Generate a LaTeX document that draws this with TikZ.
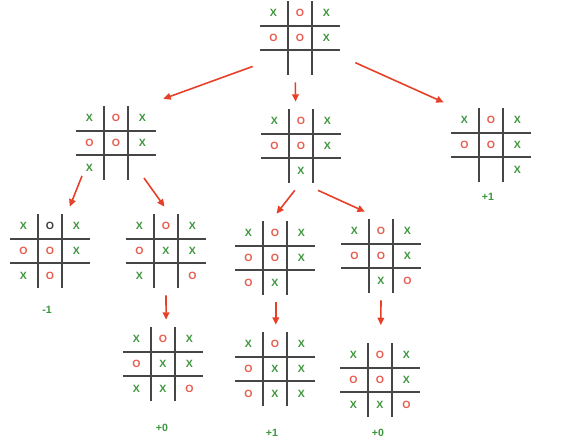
\documentclass[tikz,border=0pt]{standalone}
\usepackage{fontspec}
\setmainfont{Liberation Sans}
\usetikzlibrary{arrows.meta}
\definecolor{xgreen}{RGB}{60,150,60}
\definecolor{ored}{RGB}{232,92,78}
\definecolor{ogray}{RGB}{60,60,60}
\definecolor{arrowred}{RGB}{232,64,40}
\definecolor{gridgray}{RGB}{70,70,70}
\tikzset{
  boardbox/.style={rectangle, minimum width=1.88cm, minimum height=1.76cm, inner sep=0pt},
  gridline/.style={gridgray, line width=0.85pt},
  cell/.style={font=\fontsize{6}{7}\selectfont\bfseries, inner sep=0pt},
  xc/.style={cell, text=xgreen, node contents=X},
  oc/.style={cell, text=ored, node contents=O},
  kc/.style={cell, text=ogray, node contents=O},
  score/.style={cell, text=xgreen},
  move/.style={arrowred, line width=0.9pt, -{Triangle[length=4.2pt,width=3.8pt]}},
}
% board: name, centre, filled cells as col/row/style
\newcommand{\board}[3]{%
  \node[boardbox] (#1) at (#2) {};
  \draw[gridline]
    ([shift={(-12,-37)}]#1.center) -- ([shift={(-12,37)}]#1.center)
    ([shift={(12,-37)}]#1.center) -- ([shift={(12,37)}]#1.center)
    ([shift={(-40,-12)}]#1.center) -- ([shift={(40,-12)}]#1.center)
    ([shift={(-40,12)}]#1.center) -- ([shift={(40,12)}]#1.center);
  \foreach \c/\r/\s in {#3}
    \node (#1-\c\r) at ([shift={({26.5*(\c-1)},{25*(\r-1)})}]#1.center) [\s];
}
\begin{document}
\begin{tikzpicture}[x=0.02cm, y=-0.02cm]
  \path[fill=white, use as bounding box] (0,0) rectangle (583,444);
  \board{b1}{300,38}{0/0/xc,1/0/oc,2/0/xc,0/1/oc,1/1/oc,2/1/xc}
  \board{b2}{116,143}{0/0/xc,1/0/oc,2/0/xc,0/1/oc,1/1/oc,2/1/xc,0/2/xc}
  \board{b3}{301,146}{0/0/xc,1/0/oc,2/0/xc,0/1/oc,1/1/oc,2/1/xc,1/2/xc}
  \board{b4}{491,145}{0/0/xc,1/0/oc,2/0/xc,0/1/oc,1/1/oc,2/1/xc,2/2/xc}
  \board{b5}{50,251}{0/0/xc,1/0/kc,2/0/xc,0/1/oc,1/1/oc,2/1/xc,0/2/xc,1/2/oc}
  \board{b6}{166,251}{0/0/xc,1/0/oc,2/0/xc,0/1/oc,1/1/xc,2/1/xc,0/2/xc,2/2/oc}
  \board{b7}{275,258}{0/0/xc,1/0/oc,2/0/xc,0/1/oc,1/1/oc,2/1/xc,0/2/oc,1/2/xc}
  \board{b8}{381,256}{0/0/xc,1/0/oc,2/0/xc,0/1/oc,1/1/oc,2/1/xc,1/2/xc,2/2/oc}
  \board{b9}{163,364}{0/0/xc,1/0/oc,2/0/xc,0/1/oc,1/1/xc,2/1/xc,0/2/xc,1/2/xc,2/2/oc}
  \board{b10}{275,369}{0/0/xc,1/0/oc,2/0/xc,0/1/oc,1/1/xc,2/1/xc,0/2/oc,1/2/xc,2/2/xc}
  \board{b11}{380,380}{0/0/xc,1/0/oc,2/0/xc,0/1/oc,1/1/oc,2/1/xc,0/2/xc,1/2/xc,2/2/oc}
  % scores
  \node[score] (s4) at (488,197) {+1};
  \node[score] (s5) at (47,310) {-1};
  \node[score] (s9) at (162,428) {+0};
  \node[score] (s10) at (272,433) {+1};
  \node[score] (s11) at (378,433) {+0};
  \begin{scope}[move]
    \draw (b1.211) to (b2.43);
    \draw (b1.264) to (b3.97);
    \draw[shorten <=5pt] (b1.336) to (b4.138);
    \draw[shorten <=-7pt] (b2.229) to (b5.66);
    \draw[shorten <=-6.5pt] (b2.308) to (b6.92);
    \draw (b3.262) to (b7.88);
    \draw (b3.291) to (b8.110);
    \draw (b6.270) to (b9.86);
    \draw (b7.271) to (b10.89);
    \draw[shorten >=6pt] (b8.270) to (b11.89);
  \end{scope}
\end{tikzpicture}
\end{document}
